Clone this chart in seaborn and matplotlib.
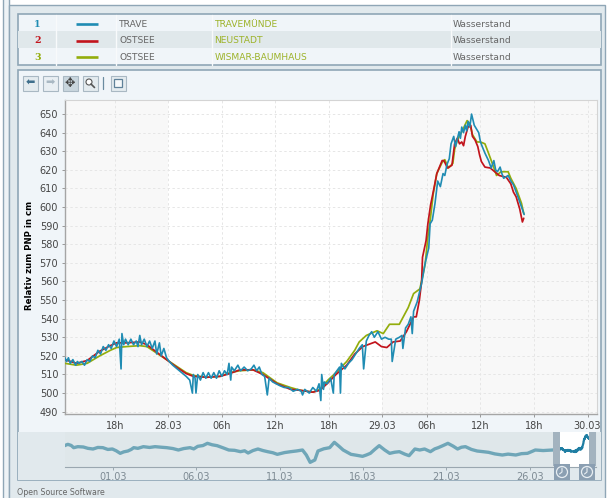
import matplotlib
matplotlib.use('Agg')
import matplotlib.pyplot as plt
import pandas as pd
import seaborn as sns
from matplotlib.patches import Circle, Rectangle

W, H = 609, 498

## Data, hours counted from 27.03 00:00, the clock change in the night to 29.03 shifts the ticks
blue_h = [12.4, 12.6, 12.8, 13.0, 13.3, 13.6, 13.8, 14.0, 14.3, 14.6, 14.9, 15.2, 15.5, 15.8, 16.1, 16.4, 16.7, 17.0, 17.3,
          17.6, 17.9, 18.2, 18.5, 18.7, 18.8, 19.0, 19.2, 19.5, 19.8, 20.1, 20.4, 20.6, 20.8, 21.0, 21.3, 21.6, 21.9, 22.2,
          22.5, 22.7, 23.0, 23.2, 23.5, 23.8, 24.1, 24.5, 25.0, 25.5, 26.0, 26.4, 26.7, 26.8, 27.0, 27.1, 27.3, 27.6, 27.9,
          28.2, 28.5, 28.8, 29.1, 29.4, 29.7, 30.0, 30.3, 30.6, 30.8, 31.0, 31.1, 31.4, 31.8, 32.1, 32.5, 32.9, 33.3, 33.6,
          33.9, 34.2, 34.5, 34.8, 35.1, 35.3, 35.7, 36.1, 36.5, 37.0, 37.5, 38.0, 38.5, 38.9, 39.05, 39.3, 39.8, 40.2, 40.6,
          40.9, 41.1, 41.2, 41.4, 41.5, 41.8, 42.2, 42.5, 42.6, 42.9, 43.2, 43.3, 43.4, 43.8, 44.2, 44.6, 45.0, 45.4, 45.75,
          45.9, 46.2, 46.5, 46.8, 47.1, 47.5, 47.9, 48.3, 48.7, 49.0, 49.1, 49.5, 49.9, 50.2, 50.3, 50.6, 50.9, 51.2, 51.35,
          51.5, 51.9, 52.4, 52.8, 53.2, 53.35, 53.6, 53.9, 54.2, 54.5, 54.8, 55.0, 55.25, 55.5, 55.7, 56.0, 56.2, 56.6, 56.75,
          56.9, 57.1, 57.3, 57.45, 57.6, 57.8, 58.0, 58.3, 58.55, 58.8, 59.0, 59.2, 59.5, 59.9, 60.2, 60.5, 60.7, 60.9, 61.2,
          61.4, 61.6, 62.1, 62.4, 62.7, 63.2, 63.6, 63.9]
blue_v = [519, 517, 519, 516, 518, 515, 517, 516, 517, 515, 518, 517, 520, 519, 523, 521, 525, 523, 526,
          524, 528, 525, 529, 513, 532, 526, 529, 526, 529, 526, 528, 525, 531, 526, 529, 525, 528, 524,
          528, 521, 527, 520, 524, 519, 517, 515, 513, 511, 509, 507, 500, 510, 508, 500, 510, 507, 511,
          508, 511, 508, 511, 508, 512, 509, 512, 510, 516, 507, 514, 512, 515, 512, 514, 512, 513, 515,
          512, 514, 510, 509, 499, 508, 506, 505, 504, 503, 503, 501, 502, 501, 499, 502, 500, 503, 501,
          505, 496, 510, 502, 506, 505, 508, 500, 510, 512, 514, 500, 516, 513, 516, 518, 521, 524, 526,
          513, 528, 531, 533, 530, 533, 529, 530, 529, 529, 517, 529, 530, 531, 524, 535, 537, 541, 532,
          544, 549, 559, 570, 578, 591, 593, 602, 614, 611, 618, 617, 623, 626, 634, 638, 632.5, 640.5, 637,
          643, 640, 644, 641, 646, 643, 650, 644, 642, 640, 635, 632.5, 629, 625, 621, 625, 620, 619, 621.5,
          618, 615.5, 617, 614, 612, 605.5, 600, 596]

red_h = [12.4, 13.7, 14.9, 15.6, 16.3, 17.5, 18.2, 19.3, 20.8, 21.6, 22.7, 23.8, 24.9, 26.0, 26.8, 28.3, 29.8, 30.9, 32.0,
         33.5, 34.6, 36.2, 37.7, 38.8, 40.2, 41.0, 41.9, 42.8, 44.0, 44.9, 45.8, 47.2, 47.9, 48.5, 49.2, 50.0, 50.7, 51.5,
         51.8, 52.15, 52.4, 52.5, 52.9, 53.1, 53.4, 53.8, 54.1, 54.7, 54.9, 55.3, 55.8, 56.1, 56.4, 56.65, 56.9, 57.1, 57.3,
         57.6, 57.9, 58.1, 58.4, 58.7, 58.9, 59.1, 59.5, 60.1, 60.6, 61.1, 61.9, 62.4, 62.7, 63.0, 63.4, 63.7, 63.85]
red_v = [518, 516, 517.5, 520, 522.5, 525.5, 527, 527, 527.5, 526, 522, 518, 514, 510.5, 509, 508.5, 509, 510.5, 512.5,
         512.5, 510, 505, 502, 501.5, 500.5, 501.5, 505.5, 510, 515, 521, 525, 527.5, 525, 524.5, 527.5, 528, 533, 541,
         541, 550, 560, 573, 582, 591, 601, 610.5, 618, 625, 625, 621, 622.5, 634, 637, 634, 635, 633, 638,
         643, 644, 638, 636, 632.5, 628, 624.5, 621.5, 621, 619, 617, 616, 612.5, 608, 605.5, 599, 592, 594]

green_h = [12.4, 13.7, 14.9, 15.6, 16.3, 17.5, 18.2, 19.3, 20.8, 21.6, 22.7, 23.8, 24.9, 26.0, 26.8, 28.3, 29.8, 30.9, 32.0,
           33.5, 34.6, 36.2, 37.7, 38.8, 40.2, 41.0, 41.9, 42.8, 44.0, 44.9, 45.4, 46.2, 47.4, 48.1, 48.8, 49.9, 50.9, 51.5,
           52.2, 52.5, 52.8, 53.1, 53.4, 53.7, 54.1, 54.7, 55.0, 55.4, 55.9, 56.1, 56.4, 56.9, 57.5, 57.8, 58.1, 58.6, 59.0,
           59.5, 59.9, 60.4, 60.8, 61.3, 62.1, 62.4, 63.0, 63.6, 63.85]
green_v = [516, 515, 516, 518, 520, 523, 524.5, 525, 525.5, 525, 521.5, 518, 514.5, 511, 509.5, 508.5, 509, 511, 512,
           512.5, 511, 505.5, 503, 501.5, 500.5, 502, 507, 511, 517, 523, 527.5, 531, 533.5, 532, 537, 537, 546, 553.5,
           556, 562.5, 569.5, 584, 594.5, 607, 618, 624, 625.5, 621, 623.5, 631, 636, 640.5, 646.5, 645, 639, 635, 635,
           634, 629, 622.5, 617, 619, 619, 615.5, 610, 602, 596.5]

# overview, days counted from 01.03
hist_days = [-2.9, -2.7, -2.5, -2.35, -2.1, -1.77, -1.5, -1.19, -0.9, -0.6, -0.3, -0.03, 0.2, 0.44, 0.65, 0.9, 1.1, 1.25, 1.5,
             1.83, 2.2, 2.53, 2.9, 3.23, 3.6, 3.93, 4.25, 4.63, 4.85, 5.09, 5.4, 5.67, 5.95, 6.25, 6.6, 6.95, 7.3, 7.65, 7.9,
             8.11, 8.4, 8.7, 9.0, 9.28, 9.6, 9.86, 10.3, 10.67, 11.0, 11.37, 11.6, 11.83, 12.11, 12.3, 12.65, 13.0, 13.28,
             13.55, 13.81, 14.05, 14.28, 14.6, 14.97, 15.2, 15.44, 15.7, 15.97, 16.3, 16.6, 16.9, 17.18, 17.5, 17.76, 18.11,
             18.4, 18.69, 19.04, 19.3, 19.51, 19.8, 20.09, 20.4, 20.67, 20.9, 21.14, 21.5, 21.84, 22.2, 22.53, 22.9, 23.35,
             23.7, 24.16, 24.5, 24.86, 25.1, 25.33, 25.8, 26.37, 26.6]
hist_v = [554, 566, 556, 536, 545, 542, 530, 524, 538, 536, 520, 524, 508, 485, 498, 506, 520, 536, 530,
          545, 538, 545, 540, 536, 528, 515, 528, 536, 525, 548, 555, 575, 562, 554, 535, 515, 512, 500, 508,
          488, 510, 524, 510, 500, 490, 476, 492, 500, 506, 515, 470, 404, 425, 506, 526, 536, 584,
          550, 515, 495, 476, 468, 458, 470, 485, 520, 554, 515, 485, 495, 500, 478, 464, 524,
          515, 524, 500, 525, 536, 555, 575, 550, 524, 540, 545, 520, 506, 500, 494, 480, 470,
          478, 470, 482, 485, 500, 515, 510, 515, 518]

y_ticks = list(range(490, 651, 10))
x_ticks = [18, 24, 30, 36, 42, 48, 53, 59, 65, 71]
x_labels = ['18h', '28.03', '06h', '12h', '18h', '29.03', '06h', '12h', '18h', '30.03']
over_ticks = [0, 5, 10, 15, 20, 25]
over_labels = ['01.03', '06.03', '11.03', '16.03', '21.03', '26.03']

rivers = ['TRAVE', 'OSTSEE', 'OSTSEE']
stations = ['TRAVEMÜNDE', 'NEUSTADT', 'WISMAR-BAUMHAUS']
kinds = ['Wasserstand', 'Wasserstand', 'Wasserstand']

BLUE, RED, GREEN = '#1f8cb3', '#c2141c', '#93ad0c'
colors = [BLUE, RED, GREEN]
EDGE = '#8fa6b6'
BG = '#e1e9ed'
PANEL = '#f0f5f9'
GREY = '#666666'


def axes_px(x0, y0, x1, y1, **kw):
    return fig.add_axes([x0 / W, 1 - y1 / H, (x1 - x0) / W, (y1 - y0) / H], **kw)


def box(a, x0, y0, x1, y1, fc='none', ec='none', lw=1.0, z=1):
    a.add_patch(Rectangle((x0, y0), x1 - x0, y1 - y0, fc=fc, ec=ec, lw=lw, zorder=z))


sns.set_style('white')
fig = plt.figure(figsize=(W / 100, H / 100), dpi=100, facecolor='white')

## Page frame, table and toolbar
back = axes_px(0, 0, W, H)
back.set_xlim(0, W)
back.set_ylim(H, 0)
back.axis('off')
box(back, 2.5, -5, 8.5, H + 5, fc='#eef3f6', ec=EDGE)
box(back, 8.5, 4.5, 605, H + 5, fc=BG, ec=EDGE)
box(back, 17.5, 14, 601, 65, fc=PANEL, ec=EDGE, lw=1.2)
box(back, 18, 31, 600.5, 48, fc='#e0e8eb')
for cx in [56, 116, 212, 451]:
    back.plot([cx, cx], [15, 64.5], color='#f8fafb', lw=1)

row_y = [24, 40.5, 57]
for i in range(3):
    y = row_y[i]
    back.text(37.5, y, str(i + 1), color=colors[i], fontsize=6.8, fontweight='bold', family='DejaVu Serif',
              ha='center', va='center')
    back.plot([76, 98], [y, y], color=colors[i], lw=1.9, solid_capstyle='butt')
    back.text(119, y, rivers[i], color=GREY, fontsize=6.6, va='center')
    back.text(214.5, y, stations[i], color='#9db32a', fontsize=6.6, va='center')
    back.text(452.5, y, kinds[i], color=GREY, fontsize=6.6, va='center')

box(back, 17.5, 70, 601, 480, fc=PANEL, ec=EDGE, lw=1.2)

for x0, x1, fc in [(22.5, 37.5, '#e4ebef'), (42.5, 57.5, '#e9eff3'), (62.5, 77.5, '#c9d6de'), (82.5, 97.5, '#e4ebef'),
                   (110.5, 125.5, '#e4ebef')]:
    box(back, x0, 75.5, x1, 90.5, fc=fc, ec='#a9b8c3', lw=0.8)
back.text(30, 83, '⬅', color='#3f6f8c', fontsize=8, ha='center', va='center')
back.text(50, 83, '➡', color='#a9b8c3', fontsize=8, ha='center', va='center')
back.text(70, 83, '✥', color='#444444', fontsize=9, ha='center', va='center')
back.add_patch(Circle((89, 82), 3, fc='white', ec='#555555', lw=0.8))
back.plot([91, 94.5], [84, 87.5], color='#555555', lw=1.2)
back.plot([103, 103], [77, 89], color='#6a8ba0', lw=0.9)
box(back, 114, 79, 122, 87, fc='#f5f8fa', ec='#5f8199', lw=0.9)
back.text(17, 492, 'Open Source Software', color=GREY, fontsize=5.7, va='center')
back.text(30, 255.5, 'Relativ zum PNP in cm', color='black', fontsize=6.2, fontweight='bold', rotation=90,
          ha='center', va='center')

## Main chart
ax = axes_px(64.5, 100.5, 596.7, 414.3, facecolor='white')
ax.axvspan(12.36, 24, color='#f8f8f8', lw=0, zorder=0)
ax.axvspan(48, 72.03, color='#f8f8f8', lw=0, zorder=0)
sns.lineplot(x=green_h, y=green_v, ax=ax, color=GREEN, lw=1.25, estimator=None, sort=False, zorder=3)
sns.lineplot(x=red_h, y=red_v, ax=ax, color=RED, lw=1.25, estimator=None, sort=False, zorder=4)
sns.lineplot(x=blue_h, y=blue_v, ax=ax, color=BLUE, lw=1.2, estimator=None, sort=False, zorder=5)
ax.set_xlim(12.36, 72.03)
ax.set_ylim(488.6, 657.3)
ax.set_xticks(x_ticks, x_labels)
ax.set_yticks(y_ticks)
ax.grid(True, color='#e6e6e6', ls=(0, (2.5, 2.5)), lw=0.7)
ax.set_axisbelow(True)
ax.tick_params(axis='both', labelsize=7, labelcolor='#444444', length=2.5, width=0.7, color='#999999', pad=2,
               bottom=True, left=True)
for side in ['top', 'right']:
    ax.spines[side].set_color('#d4d4d4')
    ax.spines[side].set_linewidth(0.8)
for side in ['left', 'bottom']:
    ax.spines[side].set_color('#a5a5a5')
    ax.spines[side].set_linewidth(1.0)

## Overview strip
box(back, 18, 432, 600.5, 479.5, fc=BG)
over = axes_px(65, 432, 596.5, 467, facecolor='#dfe7ea')
over.axvspan(26.7, 28.56, color='white', lw=0, zorder=0)
recent = pd.DataFrame({'day': [26 + h / 24 for h in blue_h], 'level': blue_v})
sns.lineplot(x=hist_days, y=hist_v, ax=over, color='#6fa6b8', lw=2.4, estimator=None, sort=False, zorder=2)
sns.lineplot(data=recent, x='day', y='level', ax=over, color='#1f7ea3', lw=1.6, estimator=None, sort=False, zorder=3)
over.set_xlim(-2.87, 29)
over.set_ylim(362, 677)
over.set_yticks([])
over.set_xticks(over_ticks, over_labels)
over.set_xlabel('')
over.set_ylabel('')
over.tick_params(axis='x', labelsize=7, labelcolor='#7d8a93', length=2, width=0.7, color='#9aa7b0', pad=1.5, bottom=True)
for side in ['top', 'left', 'right']:
    over.spines[side].set_visible(False)
over.spines['bottom'].set_color('#9aa7b0')

## Slider handles on top of the strip
front = axes_px(0, 0, W, H)
front.set_xlim(0, W)
front.set_ylim(H, 0)
front.axis('off')
front.patch.set_alpha(0)
for x0, x1 in [(553, 560), (589, 595.5)]:
    box(front, x0, 432, x1, 466, fc='#a3b3bf', z=5)
for x0, x1 in [(554, 570), (579, 595)]:
    box(front, x0, 464, x1, 480, fc='#8b9fb2', z=6)
    cx = (x0 + x1) / 2
    front.add_patch(Circle((cx, 472), 5.5, fc='none', ec='#e8eef2', lw=0.9, zorder=7))
    front.plot([cx, cx, cx - 2.5], [468, 472, 474], color='#e8eef2', lw=0.8, zorder=7)

plt.savefig('out.png', dpi=100)
